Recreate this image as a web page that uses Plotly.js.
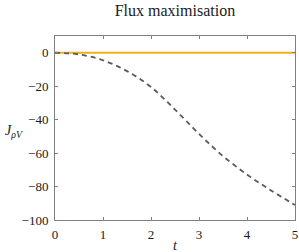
<!DOCTYPE html>
<html><head><meta charset="utf-8">
<script src="https://cdn.plot.ly/plotly-3.0.1.min.js"></script>
<style>body{margin:0;background:#fff}#c{width:299px;height:252px}</style>
</head><body><div id="c"></div>
<script>
const tValues = [0, 0.5, 1, 1.5, 2, 2.5, 3, 3.5, 4, 4.5, 5];
const fluxOptimal = [0, 0, 0, 0, 0, 0, 0, 0, 0, 0, 0];
const fluxReference = [0, -1, -4.5, -11, -20.5, -34, -48.5, -61.8, -72.8, -82.3, -91];
const xTicks = [0, 1, 2, 3, 4, 5];
const yTicks = [0, -20, -40, -60, -80, -100];

const fam = "Liberation Serif, DejaVu Serif, serif";
const font = {family: fam, color: '#1a1a1a', size: 13};
const traces = [
  {x: tValues, y: fluxOptimal, mode: 'lines', line: {color: '#EDB120', width: 1.8}, hoverinfo: 'none'},
  {x: tValues, y: fluxReference, mode: 'lines', line: {color: '#5a5a5a', width: 1.8, dash: '5px,4px', shape: 'spline'}, hoverinfo: 'none'}
];
const axisCommon = {showline: true, linecolor: '#808080', linewidth: 1, mirror: 'ticks', ticks: 'inside', ticklen: 3, tickcolor: '#808080', showgrid: false, zeroline: false, tickfont: font};
const layout = {
  width: 299, height: 252,
  margin: {l: 55, r: 4, t: 36, b: 32},
  paper_bgcolor: '#fff', plot_bgcolor: '#fff',
  showlegend: false,
  font: font,
  title: {text: 'Flux maximisation', font: {family: fam, size: 16, color: '#1a1a1a'}, x: 0.585, xanchor: 'center', y: 0.982, yanchor: 'top'},
  xaxis: Object.assign({}, axisCommon, {range: [0, 5], tickvals: xTicks, ticktext: xTicks.map(String), ticklabelstandoff: 2}),
  yaxis: Object.assign({}, axisCommon, {range: [-100, 10], tickvals: yTicks, ticktext: yTicks.map(v => v < 0 ? '\u2212' + Math.abs(v) : String(v)), ticklabelstandoff: 3}),
  annotations: [
    {text: '<i>J</i><sub><i>ρV</i></sub>', xref: 'paper', yref: 'paper', x: -0.125, y: 0.48, xanchor: 'right', yanchor: 'middle', showarrow: false, font: {family: fam, size: 14, color: '#1a1a1a'}},
    {text: '<i>t</i>', xref: 'paper', yref: 'paper', x: 0.5, y: -0.14, xanchor: 'center', yanchor: 'middle', showarrow: false, font: {family: fam, size: 14, color: '#1a1a1a'}}
  ]
};
Plotly.newPlot('c', traces, layout, {staticPlot: true, displayModeBar: false});
</script></body></html>
